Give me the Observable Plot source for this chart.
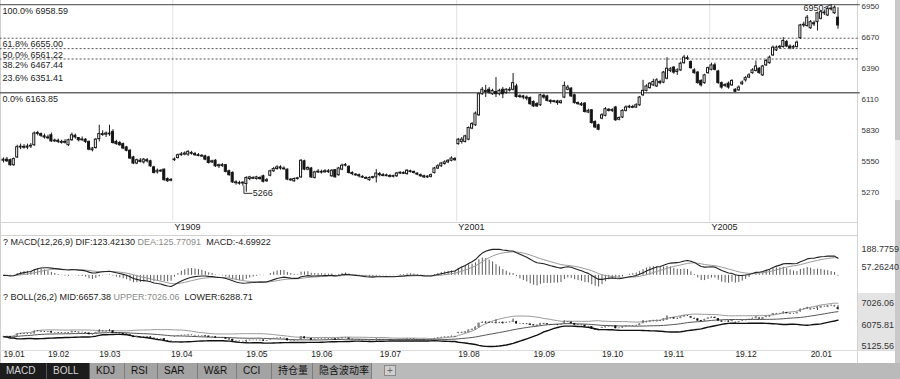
<!DOCTYPE html>
<html><head><meta charset="utf-8">
<script src="https://cdn.jsdelivr.net/npm/d3@7"></script>
<script src="https://cdn.jsdelivr.net/npm/@observablehq/plot@0.6"></script>
<style>
html,body{margin:0;padding:0;background:#fff;}
#wrap{position:relative;width:900px;height:379px;overflow:hidden;font-family:"Liberation Sans","Noto Sans CJK SC",sans-serif;font-size:9px;color:#222;}
#wrap svg{position:absolute;left:0;}
.abs{position:absolute;}
.hl{position:absolute;height:1px;background:#d2d2d2;}
.title{position:absolute;left:3px;white-space:pre;font-size:9px;color:#222;line-height:11px;}
.gray{color:#8a8a8a;}
#tabs{position:absolute;left:0;top:363px;width:900px;height:16px;background:#bababa;display:flex;font-size:10px;}
#tabs div{height:16px;line-height:16px;box-sizing:border-box;border-right:1px solid #7c7c7c;background:#a3a3a3;color:#111;padding-left:6px;}
#tabs div.on{background:#1c1c1c;color:#d6d6d6;border-right:1px solid #555;}
</style></head>
<body><div id="wrap"></div>
<script>
// ---------------- data ----------------
// daily candles, trading-day index 0..244 (mid-Jan 2019 .. Jan 2020)
const open = [
5550,5560,5555,5510,5580,5670,5675,5668,5678,5690,5800,5790,5770,
5760,5780,5725,5730,5720,5712,5690,5735,5775,5755,5735,5740,5720,5645,5665,
5745,5790,5785,5795,5810,5720,5710,5700,5670,5640,5580,5525,5550,5535,5555,5545,5490,5445,5460,5470,5385,
5370,5555,5575,5600,5605,5605,5620,5610,5600,5595,5590,5580,5535,5550,5500,5510,5510,5455,5440,5355,5350,
5345,5340,5385,5395,5385,5395,5410,5365,5415,5455,5475,5490,5480,5470,5380,5365,5385,5400,5545,5470,
5480,5395,5445,5450,5445,5455,5410,5465,5420,5470,5505,5495,5440,5425,5420,5405,5395,5375,5395,5400,
5430,5420,5418,5412,5405,5410,5435,5440,5430,5455,5450,5435,5420,5410,5400,5405,5440,5480,5500,5520,5535,5550,5565,
5700,5720,5720,5740,5840,5870,5960,6150,6180,6190,6150,6170,6150,6190,6160,6190,6190,6220,6125,6130,6120,6115,
6080,6060,6050,6135,6130,6090,6080,6085,6070,6120,6190,6200,6140,6070,6060,6065,5985,6005,5900,5870,
5930,5955,6010,6000,6030,5920,5940,6000,6030,6035,6030,6050,6140,6180,6205,6230,6220,6260,6255,6290,
6360,6390,6350,6365,6430,6475,6440,6365,6345,6270,6250,6340,6370,6410,6355,6250,6225,6245,6230,6190,6185,
6240,6275,6300,6340,6360,6380,6320,6410,6430,6500,6545,6570,6575,6620,6580,6570,6575,6655,6770,6765,6745,6790,
6800,6830,6880,6860,6915,6880,6840];
const high = [
5575,5580,5565,5575,5690,5700,5695,5700,5705,5810,5815,5800,5790,
5780,5800,5745,5745,5735,5740,5745,5800,5790,5760,5765,5750,5728,5670,5750,
5870,5820,5810,5870,5830,5735,5725,5710,5680,5650,5590,5565,5570,5570,5570,5555,5500,5475,5470,5475,5395,
5390,5575,5610,5625,5630,5640,5635,5625,5615,5605,5600,5590,5555,5560,5520,5525,5515,5465,5450,5370,5365,
5360,5405,5410,5405,5410,5405,5420,5390,5465,5490,5505,5505,5495,5475,5390,5395,5400,5560,5555,5495,
5490,5455,5470,5465,5470,5470,5470,5470,5490,5520,5525,5505,5450,5435,5430,5415,5405,5405,5410,5470,
5445,5435,5430,5425,5420,5445,5450,5450,5470,5465,5455,5440,5430,5420,5415,5430,5490,5515,5535,5550,5560,5585,5580,
5750,5760,5780,5855,5895,5990,6160,6210,6230,6210,6195,6300,6195,6210,6200,6210,6337,6240,6145,6140,6135,6125,
6090,6075,6150,6150,6140,6100,6095,6095,6095,6260,6230,6210,6150,6080,6075,6075,6015,6010,5910,5880,
5975,6030,6020,6020,6040,5945,6010,6045,6050,6050,6065,6130,6275,6235,6255,6285,6290,6275,6355,6480,
6390,6400,6380,6440,6500,6495,6450,6380,6355,6280,6330,6395,6430,6430,6365,6260,6245,6260,6280,6200,6225,
6270,6310,6335,6380,6450,6390,6410,6465,6495,6585,6585,6590,6660,6635,6595,6590,6630,6780,6800,6860,6815,6810,
6890,6905,6910,6935,6958.59,6945,6930];
const low = [
5530,5535,5500,5500,5570,5650,5655,5650,5660,5680,5775,5760,5745,
5740,5715,5715,5705,5700,5700,5680,5725,5745,5720,5725,5705,5640,5630,5655,
5720,5770,5760,5770,5700,5690,5680,5650,5630,5560,5515,5515,5530,5520,5530,5490,5430,5430,5445,5365,5355,
5360,5545,5565,5590,5595,5590,5600,5590,5585,5580,5550,5520,5525,5490,5480,5490,5440,5410,5345,5330,5330,
5320,5266,5370,5380,5375,5375,5350,5355,5405,5445,5465,5465,5465,5370,5365,5355,5375,5390,5460,5460,
5390,5385,5435,5430,5440,5435,5400,5395,5410,5460,5495,5430,5415,5410,5395,5390,5380,5365,5385,5350,
5405,5405,5405,5395,5395,5400,5425,5425,5420,5440,5430,5415,5400,5390,5390,5395,5430,5470,5490,5510,5525,5540,5545,
5690,5700,5710,5730,5830,5860,5950,6140,6120,6150,6140,6120,6135,6110,6150,6170,6180,6115,6110,6100,6090,6050,
6030,6030,6040,6105,6080,6060,6070,6050,6060,6110,6180,6120,6060,6050,6040,5980,5975,5880,5840,5820,
5920,5945,5990,5985,5905,5910,5930,5990,6020,6020,6020,6040,6130,6170,6195,6220,6210,6235,6245,6280,
6345,6330,6320,6355,6420,6455,6375,6330,6240,6215,6240,6330,6360,6360,6240,6195,6210,6195,6220,6163.85,6175,
6230,6260,6290,6330,6350,6330,6310,6400,6420,6490,6535,6555,6565,6570,6550,6555,6565,6645,6750,6755,6735,6760,
6720,6820,6860,6850,6900,6870,6735];
const close = [
5560,5545,5510,5565,5672,5675,5670,5678,5683,5795,5792,5775,5760,
5755,5725,5730,5720,5712,5720,5735,5780,5760,5735,5742,5720,5650,5660,5740,
5790,5785,5795,5790,5710,5700,5690,5660,5640,5570,5525,5555,5540,5560,5545,5500,5440,5460,5455,5375,5365,
5375,5560,5600,5605,5615,5630,5615,5600,5597,5590,5560,5530,5545,5500,5510,5505,5450,5420,5355,5350,5345,
5348,5395,5400,5390,5400,5385,5360,5375,5455,5475,5490,5480,5475,5380,5375,5385,5390,5550,5470,5485,
5400,5445,5450,5445,5455,5448,5460,5400,5480,5505,5510,5440,5430,5420,5410,5400,5390,5395,5400,5435,
5420,5418,5415,5405,5410,5435,5440,5435,5460,5450,5440,5425,5410,5400,5405,5420,5480,5500,5525,5535,5550,5570,5555,
5740,5740,5770,5845,5880,5975,6150,6190,6170,6165,6180,6150,6180,6150,6190,6185,6250,6125,6130,6120,6110,6060,
6040,6040,6140,6120,6090,6080,6085,6070,6085,6225,6210,6130,6070,6060,6050,5990,6000,5890,5850,5830,
5960,6015,6000,6005,5915,5935,6000,6030,6035,6030,6050,6120,6180,6220,6245,6260,6275,6250,6345,6380,
6375,6345,6365,6425,6480,6470,6385,6340,6250,6230,6320,6385,6410,6370,6250,6210,6230,6210,6270,6172,6210,
6255,6295,6320,6365,6400,6340,6400,6450,6480,6570,6570,6575,6630,6580,6565,6575,6615,6770,6775,6840,6800,6780,
6880,6890,6885,6920,6920,6930,6770];

// axis / label texts
const priceTicks = [6950, 6670, 6390, 6110, 5830, 5550, 5270];
const monthLabels = ["19.01","19.02","19.03","19.04","19.05","19.06","19.07","19.08","19.09","19.10","19.11","19.12","20.01"];
const monthStart  = [0, 13, 28, 49, 71, 90, 110, 133, 155, 175, 193, 214, 236];
const contractLabels = ["Y1909", "Y2001", "Y2005"];
const contractStart  = [50, 133, 207];
const fibPct   = ["100.0%", "61.8%", "50.0%", "38.2%", "23.6%", "0.0%"];
const fibValue = [6958.59, 6655.00, 6561.22, 6467.44, 6351.41, 6163.85];
const fibLine  = ["solid", "dot", "dot", "dot", "none", "solid"];
const extremeLabels = ["6950", "5266"];
const macdTicks = [188.7759, 57.2624];
const macdTickText = ["188.7759", "57.26240"];
const bollTicks = [7026.06, 6075.81, 5125.56];
const bollTickText = ["7026.06", "6075.81", "5125.56"];
const macdTitle = ["? MACD(12,26,9) DIF:123.42130 ", "DEA:125.77091", "  MACD:-4.69922"];
const bollTitle = ["? BOLL(26,2) MID:6657.38 ", "UPPER:7026.06", "  LOWER:6288.71"];
const tabNames = ["MACD","BOLL","KDJ","RSI","SAR","W&R","CCI","持仓量","隐含波动率"];

// ---------------- derived indicators ----------------
const N = close.length;
const idx = d3.range(N);
const candles = idx.map(i => ({i, o: open[i], h: high[i], l: low[i], c: close[i], up: close[i] >= open[i]}));
function ema(a, n){ const k = 2/(n+1); let p = a[0]; return a.map((v,i) => (p = i ? v*k + p*(1-k) : v)); }
const e12 = ema(close, 12), e26 = ema(close, 26);
const dif = idx.map(i => e12[i] - e26[i]);
const dea = ema(dif, 9);
const macd = idx.map(i => ({i, dif: dif[i], dea: dea[i], m: 2*(dif[i]-dea[i])}));
const boll = idx.map(i => {
  const w = close.slice(Math.max(0, i-25), i+1);
  const mid = d3.mean(w), sd = Math.sqrt(d3.mean(w, v => (v-mid)**2));
  return {i, mid, up: mid + 2*sd, lo: mid - 2*sd};
});
const iMax = d3.maxIndex(high), iMin = d3.minIndex(low);

const font = '"Liberation Sans","Noto Sans CJK SC",sans-serif';
const X = {domain: [0, N-1], range: [3, 837.5], axis: null};
const bodyEnd = d => Math.abs(d.o - d.c) < 7 ? d.o + (d.up ? 7 : -7) : d.c;
const wrap = document.getElementById("wrap");
const baseStyle = {background: "transparent", fontFamily: font, fontSize: "9px", color: "#333", overflow: "visible"};

function add(el, top){ el.style.top = top + "px"; wrap.appendChild(el); }
function div(cls, css, html){ const d = document.createElement("div"); d.className = cls; d.style.cssText = css; if (html != null) d.innerHTML = html; wrap.appendChild(d); return d; }
// right-hand tick labels, placed through each panel's y scale
function rightTicks(values, texts, size, dy){
  return Plot.text(values, {y: d => d, frameAnchor: "right", dx: 3, dy, textAnchor: "start",
    text: (d, k) => texts[k], fontSize: size, fill: "#333"});
}

// chrome behind the plots
div("abs", "left:858px;top:293px;width:37px;height:57px;background:#e4e4e4;");
div("abs", "left:0;top:0;width:1px;height:363px;background:#cfcfcf;");
div("abs", "left:857px;top:0;width:1px;height:363px;background:#d4d4d4;");
div("abs", "left:895px;top:0;width:5px;height:363px;background:#c9c9c9;");
div("abs", "left:895px;top:140px;width:5px;height:60px;background:#ececec;");
div("hl", "left:0;top:222px;width:858px;");
div("hl", "left:0;top:235px;width:858px;");
div("hl", "left:0;top:350px;width:895px;background:#dcdcdc;");

// ---------------- main candle panel ----------------
const fib = fibValue.map((v,k) => ({v, pct: fibPct[k], style: fibLine[k]}));
const main = Plot.plot({
  width: 900, height: 236, marginLeft: 0, marginRight: 42, marginTop: 0, marginBottom: 0,
  style: baseStyle,
  x: X,
  y: {domain: [6950, 5270], range: [5, 191.3], axis: null},
  marks: [
    Plot.ruleX(contractStart, {x: d => d - 0.5, y1: 6998, y2: 5000, stroke: "#e2e2e2"}),
    Plot.ruleY(fib.filter(d => d.style === "solid"), {y: "v", x1: -1, x2: 250.5, stroke: "#6a6a6a", strokeWidth: d => d.pct === "0.0%" ? 1.6 : 1.2}),
    Plot.ruleY(fib.filter(d => d.style === "dot"), {y: "v", x1: -1, x2: 250.5, stroke: "#555", strokeDasharray: "2,2"}),
    Plot.text(fib, {y: "v", frameAnchor: "left", dx: 2, dy: 6.3, textAnchor: "start", text: d => d.pct + " " + d.v.toFixed(2), fill: "#222", fontSize: 9}),
    Plot.ruleX(candles, {x: "i", y1: "l", y2: "h", stroke: "#1a1a1a", strokeWidth: 1}),
    Plot.rect(candles, {x1: d => d.i - 0.3, x2: d => d.i + 0.3, y1: "o", y2: bodyEnd, fill: d => d.up ? "#fff" : "#111", stroke: "#1a1a1a", strokeWidth: 1}),
    Plot.text([iMax], {x: d => d - 2.2, y: d => high[d], dy: 4, textAnchor: "end", text: () => extremeLabels[0], fill: "#222", fontSize: 9}),
    Plot.link([iMax], {x1: d => d - 2.1, y1: d => high[d] - 30, x2: d => d, y2: d => high[d], stroke: "#333"}),
    Plot.link([iMin], {x1: d => d - 0.7, y1: d => low[d] + 60, x2: d => d - 0.7, y2: d => low[d] - 10, stroke: "#333"}),
    Plot.link([iMin], {x1: d => d - 0.7, y1: d => low[d] - 10, x2: d => d + 1.8, y2: d => low[d] - 10, stroke: "#333"}),
    Plot.text([iMin], {x: d => d + 1.9, y: d => low[d] - 10, textAnchor: "start", text: () => extremeLabels[1], fill: "#222", fontSize: 9}),
    Plot.text(contractStart, {x: d => d, frameAnchor: "bottom", dy: -7, textAnchor: "start", text: (d, k) => contractLabels[k], fill: "#222", fontSize: 9}),
    rightTicks(priceTicks, priceTicks.map(String), 8, 1)
  ]
});
add(main, 0);

// ---------------- MACD panel ----------------
const macdPlot = Plot.plot({
  width: 900, height: 56, marginLeft: 0, marginRight: 42, marginTop: 0, marginBottom: 0,
  style: baseStyle,
  x: X,
  y: {domain: [57.2624, 188.7759], range: [31, 13], axis: null},
  marks: [
    Plot.ruleX(macd, {x: "i", y1: 0, y2: "m", stroke: "#5a5a5a", strokeWidth: 1}),
    Plot.line(macd, {x: "i", y: "dea", stroke: "#9a9a9a", strokeWidth: 1}),
    Plot.line(macd, {x: "i", y: "dif", stroke: "#222", strokeWidth: 1.1}),
    rightTicks(macdTicks, macdTickText, 9, 0)
  ]
});
add(macdPlot, 236);
div("title", "top:237px;", macdTitle[0] + '<span class="gray">' + macdTitle[1] + '</span>' + macdTitle[2]);

// ---------------- BOLL panel + date axis ----------------
const bollPlot = Plot.plot({
  width: 900, height: 71, marginLeft: 0, marginRight: 42, marginTop: 0, marginBottom: 13,
  style: baseStyle,
  x: X,
  y: {domain: [5125.56, 7026.06], range: [54, 11], axis: null},
  marks: [
    Plot.line(boll, {x: "i", y: "up", stroke: "#9a9a9a", strokeWidth: 1}),
    Plot.line(boll, {x: "i", y: "mid", stroke: "#555", strokeWidth: 1}),
    Plot.line(boll, {x: "i", y: "lo", stroke: "#111", strokeWidth: 1.4}),
    Plot.ruleX(candles, {x: "i", y1: "l", y2: "h", stroke: "#333", strokeWidth: 1}),
    Plot.rect(candles, {x1: d => d.i - 0.3, x2: d => d.i + 0.3, y1: "o", y2: "c", fill: d => d.up ? "#888" : "#111"}),
    Plot.text(monthStart, {x: d => d, frameAnchor: "bottom", dy: 6.5, textAnchor: "start", text: (d, k) => monthLabels[k], fill: "#222", fontSize: 8.5}),
    rightTicks(bollTicks, bollTickText, 9, 0)
  ]
});
add(bollPlot, 292);
div("title", "top:292px;", bollTitle[0] + '<span class="gray">' + bollTitle[1] + '</span>' + bollTitle[2]);

// ---------------- tab bar ----------------
const tabs = div("", "", null); tabs.id = "tabs";
const tabW = [47, 43, 35, 33, 40, 39, 35, 41, 59];
tabNames.forEach((t, k) => {
  const d = document.createElement("div");
  d.textContent = t; d.style.width = tabW[k] + "px";
  if (k < 2) d.className = "on";
  tabs.appendChild(d);
});
const plus = document.createElement("div");
plus.textContent = "+";
plus.style.cssText = "width:12px;height:11px;margin:2px 0 0 12px;line-height:10px;padding:0;text-align:center;background:#cfcfcf;border:1px solid #8a8a8a;color:#666;font-size:10px;";
tabs.appendChild(plus);
</script>
</body></html>
